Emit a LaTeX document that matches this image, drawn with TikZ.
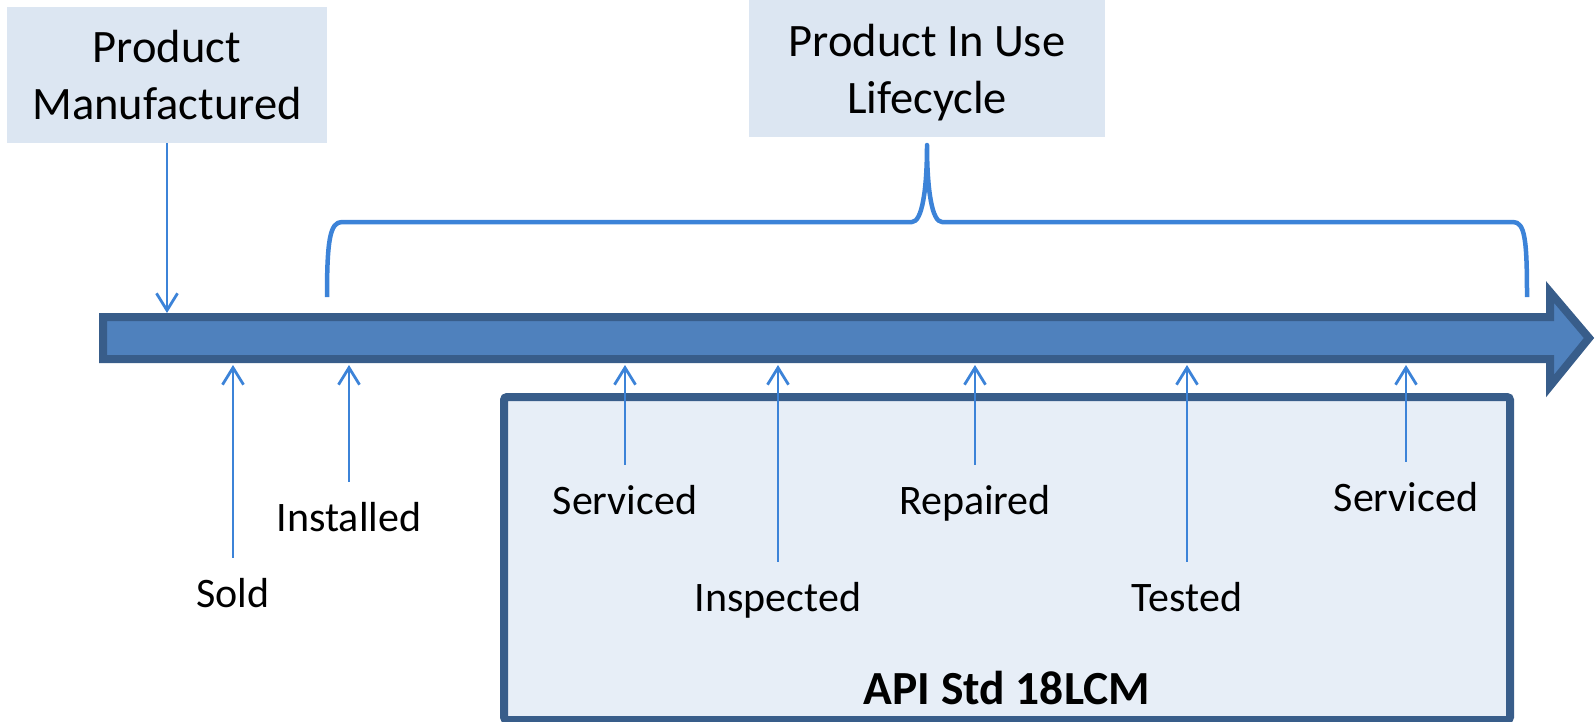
\documentclass[tikz,border=0pt]{standalone}
\usepackage{fontspec}
\setmainfont{Carlito}
\usetikzlibrary{arrows.meta}
\definecolor{barfill}{HTML}{4F81BD}
\definecolor{barline}{HTML}{385D8A}
\definecolor{tagfill}{HTML}{DCE6F2}
\definecolor{stdfill}{HTML}{E7EEF7}
\definecolor{evtblue}{HTML}{3C83D8}
\begin{document}
\begin{tikzpicture}[x=1pt,y=1pt]
        \tikzstyle{every node}+=[inner sep=0pt]
        \tikzstyle{tag}=[fill=tagfill, align=center, font=\fontsize{46.5}{57}\selectfont]
        \tikzstyle{lbl}=[anchor=base, font=\fontsize{42}{50}\selectfont]
        \tikzstyle{evt}=[draw=evtblue, line width=2.8pt, -{Straight Barb[length=17pt,width=21pt]}]
        \useasboundingbox (0,0) rectangle (1595,-721);
        \coordinate (bar-top) at (0,-313);
        \coordinate (bar-bot) at (0,-365);
        % timeline
        \draw [barline, fill=barfill, line width=8pt, line join=miter] (103,-317) -- (1550,-317) -- (1550,-292) -- (1589,-338) -- (1550,-386) -- (1550,-359) -- (103,-359) -- cycle;
        % boxes
        \node [tag, minimum width=320pt, minimum height=136pt] (made) at (167,-75) {Product\\Manufactured};
        \node [tag, minimum width=356pt, minimum height=137pt, text depth=-6pt] (inuse) at (927,-68.5) {Product In Use\\Lifecycle};
        \node [draw=barline, fill=stdfill, line width=8pt, rounded corners=3pt, minimum width=1006pt, minimum height=323pt] (std) at (1007,-558.5) {};
        \node [anchor=base, font=\fontsize{47.5}{57}\selectfont\bfseries] (stdname) at (1007,-704) {API Std 18LCM};
        % brace
        \draw [evtblue, line width=4.5pt, line join=round] (327,-297) .. controls (327,-240) and (330,-222) .. (342,-222) -- (912,-222) .. controls (922,-222) and (927,-190) .. (927,-145) .. controls (927,-190) and (932,-222) .. (942,-222) -- (1513,-222) .. controls (1525,-222) and (1527,-240) .. (1527,-297);
        % events
        \node [lbl] (sold) at (233,-607) {Sold};
        \node [lbl] (installed) at (349,-531) {Installed};
        \node [lbl] (serviced) at (625,-514) {Serviced};
        \node [lbl] (inspected) at (778,-611) {Inspected};
        \node [lbl] (repaired) at (975,-514) {Repaired};
        \node [lbl] (tested) at (1187,-611) {Tested};
        \node [lbl] (serviced2) at (1406,-511) {Serviced};
        \draw [evt] (made.south) -- (made.south |- bar-top);
        \draw [evt] ([yshift=20pt]sold.north) -- (sold.north |- bar-bot);
        \draw [evt] ([yshift=20pt]installed.north) -- (installed.north |- bar-bot);
        \draw [evt] ([yshift=20pt]serviced.north) -- (serviced.north |- bar-bot);
        \draw [evt] ([yshift=20pt]inspected.north) -- (inspected.north |- bar-bot);
        \draw [evt] ([yshift=20pt]repaired.north) -- (repaired.north |- bar-bot);
        \draw [evt] ([yshift=20pt]tested.north) -- (tested.north |- bar-bot);
        \draw [evt] ([yshift=20pt]serviced2.north) -- (serviced2.north |- bar-bot);
\end{tikzpicture}
\end{document}
